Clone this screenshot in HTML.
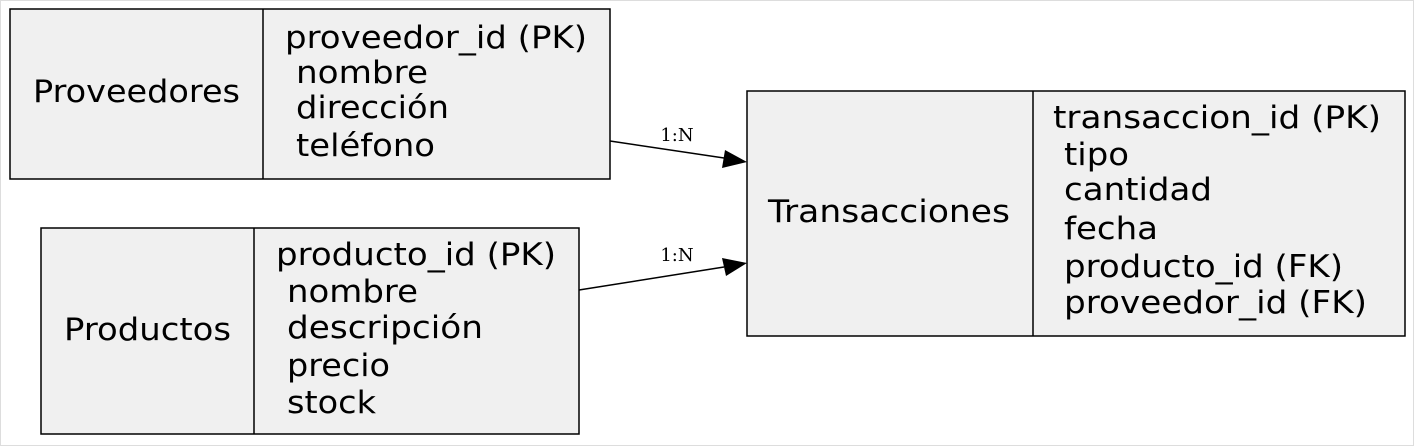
<!DOCTYPE html>
<html><head><meta charset="utf-8"><style>
html,body{margin:0;padding:0;background:#fff;}
svg{display:block}
text{font-family:"DejaVu Sans","Liberation Sans",sans-serif;font-size:31px;fill:#000}
.l{font-family:"DejaVu Serif","Liberation Serif",serif;font-size:18px}
</style></head><body>
<svg width="1414" height="446" viewBox="0 0 1414 446" xmlns="http://www.w3.org/2000/svg">
<rect x="0.5" y="0.5" width="1413" height="445" fill="#fff" stroke="#ddd"/>
<g fill="#f0f0f0" stroke="#000" stroke-width="1.5">
<rect x="10" y="9" width="600" height="170"/><line x1="263" y1="9" x2="263" y2="179"/>
<rect x="41" y="228" width="538" height="206"/><line x1="254" y1="228" x2="254" y2="434"/>
<rect x="747" y="91" width="658" height="245"/><line x1="1033" y1="91" x2="1033" y2="336"/>
</g>
<text x="33" y="102" textLength="207" lengthAdjust="spacingAndGlyphs">Proveedores</text>
<text x="285" y="48" textLength="302" lengthAdjust="spacingAndGlyphs">proveedor_id (PK)</text>
<text x="296" y="83" textLength="132" lengthAdjust="spacingAndGlyphs">nombre</text>
<text x="296" y="118" textLength="153" lengthAdjust="spacingAndGlyphs">dirección</text>
<text x="296" y="156" textLength="139" lengthAdjust="spacingAndGlyphs">teléfono</text>
<text x="64" y="340" textLength="167" lengthAdjust="spacingAndGlyphs">Productos</text>
<text x="276" y="265" textLength="280" lengthAdjust="spacingAndGlyphs">producto_id (PK)</text>
<text x="287" y="302" textLength="131" lengthAdjust="spacingAndGlyphs">nombre</text>
<text x="287" y="338" textLength="196" lengthAdjust="spacingAndGlyphs">descripción</text>
<text x="287" y="376" textLength="103" lengthAdjust="spacingAndGlyphs">precio</text>
<text x="287" y="413" textLength="89" lengthAdjust="spacingAndGlyphs">stock</text>
<text x="768" y="222" textLength="242" lengthAdjust="spacingAndGlyphs">Transacciones</text>
<text x="1053" y="128" textLength="328" lengthAdjust="spacingAndGlyphs">transaccion_id (PK)</text>
<text x="1064" y="165" textLength="65" lengthAdjust="spacingAndGlyphs">tipo</text>
<text x="1064" y="200" textLength="148" lengthAdjust="spacingAndGlyphs">cantidad</text>
<text x="1064" y="239" textLength="94" lengthAdjust="spacingAndGlyphs">fecha</text>
<text x="1064" y="277" textLength="279" lengthAdjust="spacingAndGlyphs">producto_id (FK)</text>
<text x="1064" y="313" textLength="303" lengthAdjust="spacingAndGlyphs">proveedor_id (FK)</text>
<g stroke="#000" stroke-width="1.5">
<line x1="610" y1="141" x2="724" y2="158"/>
<line x1="579" y1="290" x2="724" y2="267"/>
</g>
<polygon points="747,162 722,168 725,150" fill="#000"/>
<polygon points="747,263 726,276 722,258" fill="#000"/>
<text class="l" x="677" y="141" text-anchor="middle">1:N</text>
<text class="l" x="677" y="261" text-anchor="middle">1:N</text>
</svg>
</body></html>
